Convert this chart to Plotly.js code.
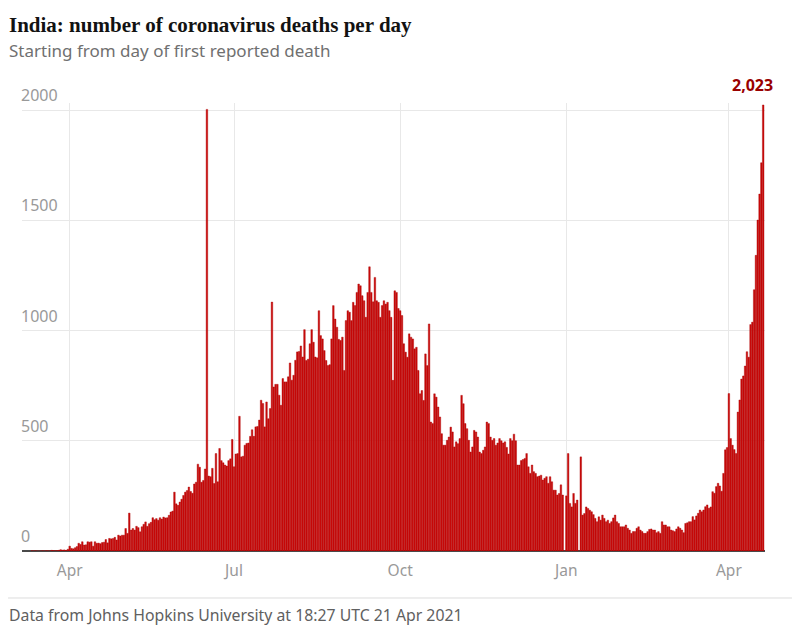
<!DOCTYPE html>
<html>
<head>
<meta charset="utf-8">
<script src="https://cdn.plot.ly/plotly-3.0.1.min.js"></script>
<style>html,body{margin:0;padding:0;background:#fff;}#chart{width:800px;height:631px;}</style>
</head>
<body>
<div id="chart"></div>
<script>
// Daily deaths, one array per month, first value = day of first reported death
var firstDay = '2020-03-11';
var mar2020 = [1,0,1,0,0,0,1,0,1,1,0,3,2,1,2,3,6,4,5,3,8];
var apr2020 = [22,12,10,15,20,35,30,42,27,28,42,40,42,22,42,35,36,33,38,40,52,37,57,55,57,62,50,72,68,72];
var may2020 = [72,102,80,172,95,102,95,112,106,87,110,121,132,112,124,130,151,142,147,140,151,145,154,150,151,162,177,181,267,214,207];
var jun2020 = [222,235,252,267,274,290,270,262,304,312,394,380,312,320,372,2003,340,337,375,306,442,314,465,410,400,390,385,410,418,506];
var jul2020 = [382,440,442,611,427,430,480,488,490,520,550,520,563,565,594,684,669,563,676,600,646,1129,744,756,756,707,661,782,767,767,790];
var aug2020 = [853,775,797,865,903,905,930,880,1004,864,870,940,1004,947,880,876,1090,977,962,909,864,841,845,962,1113,1052,1015,960,955,970,819];
var sep2020 = [1045,1090,1083,1045,1128,1113,1173,1211,1203,1158,1135,1060,1173,1289,1173,1130,1241,1135,1128,1060,1113,1135,1120,1128,1090,1060,774,1180,1173,1100];
var oct2020 = [1090,1068,940,902,879,985,970,962,917,924,819,713,728,683,894,841,1030,585,578,713,698,653,608,532,480,480,502,517,562,540,472];
var nov2020 = [495,487,510,706,668,578,555,502,449,472,547,540,517,449,442,457,472,585,578,517,502,510,480,490,510,500,490,495,470,440];
var dec2020 = [510,500,530,500,390,390,410,415,420,442,382,352,390,360,352,337,340,344,322,330,337,307,337,314,276,276,254,261,300,254,0];
var jan2021 = [250,442,216,200,261,216,231,0,427,163,170,200,193,185,178,165,148,133,155,140,163,148,133,140,125,133,150,163,133,125,110];
var feb2021 = [110,110,118,103,95,80,88,88,103,110,95,88,80,80,88,98,100,95,95,83,88,80,133,118,118,110,110,95];
var mar2021 = [92,88,100,110,103,95,83,125,128,133,133,156,141,159,171,186,178,186,201,209,194,200,269,262,292,307,295,271,352,459,469];
var apr2021 = [714,510,480,460,442,630,685,780,794,839,904,879,1027,1038,1185,1341,1501,1619,1761,2023];

var xTickVals = ['2020-04-01','2020-07-01','2020-10-01','2021-01-01','2021-04-01'];
var xTickText = ['Apr','Jul','Oct','Jan','Apr'];
var yTickVals = [0,500,1000,1500,2000];
var yTickText = ['0','500','1000','1500','2000'];

var deaths = [].concat(mar2020,apr2020,may2020,jun2020,jul2020,aug2020,sep2020,oct2020,nov2020,dec2020,jan2021,feb2021,mar2021,apr2021);
var p = firstDay.split('-').map(Number);
var dates = deaths.map(function(v,i){
  return new Date(Date.UTC(p[0], p[1]-1, p[2]+i)).toISOString().slice(0,10);
});
var lastDate = dates[dates.length-1];
var lastVal = deaths[deaths.length-1];

var sans = 'Noto Sans, Open Sans, sans-serif';

var trace = {
  type:'bar', x:dates, y:deaths,
  marker:{color:'#cc0a0a', line:{color:'#a80000', width:0.4}},
  hoverinfo:'none'
};

var annotations = [
  {text:'India: number of coronavirus deaths per day', xref:'paper', yref:'paper',
   x:0, xshift:-15, xanchor:'left', y:1.174, yanchor:'middle', showarrow:false,
   font:{family:'Liberation Serif, DejaVu Serif, serif', size:21, color:'#121212', weight:700}},
  {text:'Starting from day of first reported death', xref:'paper', yref:'paper',
   x:0, xshift:-15, xanchor:'left', y:1.118, yanchor:'middle', showarrow:false,
   font:{family:sans, size:17, color:'#707070'}},
  {text:'Data from Johns Hopkins University at 18:27 UTC 21 Apr 2021', xref:'paper', yref:'paper',
   x:0, xshift:-15, xanchor:'left', y:-0.1429, yanchor:'middle', showarrow:false,
   font:{family:sans, size:15.8, color:'#606060'}},
  {text:'2,023', xref:'x', yref:'y', x:lastDate, y:lastVal,
   xanchor:'right', xshift:12, yanchor:'bottom', yshift:7, showarrow:false,
   font:{family:sans, size:16, color:'#990000', weight:700}}
];
yTickVals.forEach(function(v,i){
  annotations.push({text:yTickText[i], xref:'paper', yref:'y', x:0, xshift:-3, xanchor:'left',
    y:v, yanchor:'bottom', yshift:2, showarrow:false,
    font:{family:sans, size:16, color:'#999999'}});
});

var layout = {
  width:800, height:631,
  margin:{l:22, r:35, t:103, b:80},
  paper_bgcolor:'#fff', plot_bgcolor:'#fff',
  bargap:0.12,
  showlegend:false,
  xaxis:{
    type:'date',
    range:['2020-03-05 14:24','2021-04-21 00:00'],
    tickvals:xTickVals, ticktext:xTickText,
    showgrid:true, gridcolor:'#e8e8e8', gridwidth:1,
    zeroline:false, showline:false, ticks:'',
    ticklabelstandoff:8,
    tickfont:{family:sans, size:15.5, color:'#999999'},
    fixedrange:true
  },
  yaxis:{
    range:[0,2032],
    tickvals:yTickVals,
    showticklabels:false,
    showgrid:true, gridcolor:'#e8e8e8', gridwidth:1,
    zeroline:true, zerolinecolor:'#4a4a4a', zerolinewidth:1.5,
    showline:false, ticks:'',
    fixedrange:true
  },
  shapes:[
    {type:'line', xref:'paper', yref:'paper', x0:-0.0188, x1:1.0363, y0:-0.1049, y1:-0.1049,
     line:{color:'#dcdcdc', width:1}}
  ],
  annotations:annotations
};

Plotly.newPlot('chart',[trace],layout,{displayModeBar:false, staticPlot:true});
</script>
</body>
</html>
